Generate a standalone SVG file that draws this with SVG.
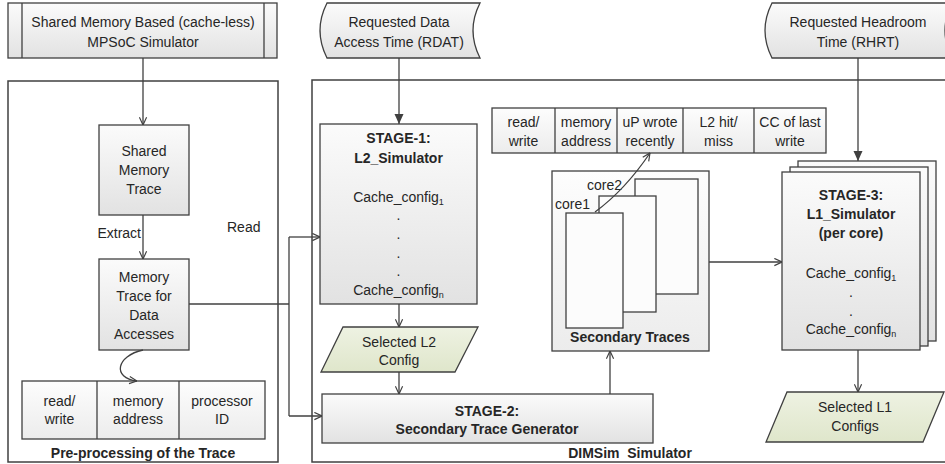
<svg xmlns="http://www.w3.org/2000/svg" width="945" height="464" viewBox="0 0 945 464">
<defs>
<linearGradient id="g" x1="0" y1="0" x2="0" y2="1"><stop offset="0" stop-color="#fbfbfb"/><stop offset="1" stop-color="#e2e2e2"/></linearGradient>
<linearGradient id="gl" x1="0" y1="0" x2="0" y2="1"><stop offset="0" stop-color="#fdfdfd"/><stop offset="1" stop-color="#ececec"/></linearGradient>
<linearGradient id="gg" x1="0" y1="0" x2="0" y2="1"><stop offset="0" stop-color="#eef2e2"/><stop offset="1" stop-color="#dfe6cb"/></linearGradient>
<marker id="open" viewBox="0 0 10 10" refX="9.5" refY="5" markerWidth="9" markerHeight="9" orient="auto" markerUnits="userSpaceOnUse"><path d="M1,1 L9.5,5 L1,9" fill="none" stroke="#404040" stroke-width="1.3"/></marker>
<marker id="fill" viewBox="0 0 10 10" refX="10" refY="5" markerWidth="10" markerHeight="10" orient="auto" markerUnits="userSpaceOnUse"><path d="M0,0.5 L10,5 L0,9.5 Z" fill="#404040"/></marker>
</defs>
<style>
.b{stroke:#404040;stroke-width:1.3;fill:url(#g)}
.l{stroke:#404040;stroke-width:1.3;fill:url(#gl)}
.gr{stroke:#404040;stroke-width:1.3;fill:url(#gg)}
.w{stroke:#404040;stroke-width:1.3;fill:#fcfcfc}
.fr{stroke:#404040;stroke-width:1.5;fill:none}
.c{stroke:#404040;stroke-width:1.3;fill:none}
.o{marker-end:url(#open)}
.f{marker-end:url(#fill)}
text{font-family:"Liberation Sans",Arial,sans-serif;font-size:14px;fill:#262626;text-anchor:middle}
.bd{font-weight:bold}
.st{text-anchor:start}
.en{text-anchor:end}
.sub{font-size:9px}
</style>

<g id="left-frame">
<rect class="fr" x="8" y="81" width="270" height="381"/>
<text class="bd" x="143" y="458">Pre-processing of the Trace</text>
</g>
<g id="right-frame">
<rect class="fr" x="312" y="80" width="650" height="382"/>
<text class="bd" x="630" y="458" xml:space="preserve">DIMSim  Simulator</text>
</g>

<g id="mpsoc">
<rect class="b" x="8" y="3" width="269" height="55"/>
<line class="c" x1="22" y1="3" x2="22" y2="58"/>
<line class="c" x1="264" y1="3" x2="264" y2="58"/>
<text x="143" y="27">Shared Memory Based (cache-less)</text>
<text x="143" y="47">MPSoC Simulator</text>
</g>

<g id="rdat">
<path class="b" d="M327,3 L480,3 Q466,30.5 480,58 L327,58 Q313,30.5 327,3 Z"/>
<text x="399" y="27">Requested Data</text>
<text x="399" y="47">Access Time (RDAT)</text>
</g>

<g id="rhrt">
<path class="b" d="M772,3 L952,3 Q938,30.5 952,58 L772,58 Q758,30.5 772,3 Z"/>
<text x="858" y="27">Requested Headroom</text>
<text x="858" y="47">Time (RHRT)</text>
</g>

<g id="smt">
<rect class="b" x="99" y="125" width="90" height="90"/>
<text x="144" y="156">Shared</text>
<text x="144" y="175">Memory</text>
<text x="144" y="194">Trace</text>
</g>

<g id="mtda">
<rect class="b" x="99" y="259" width="90" height="91"/>
<text x="144" y="282">Memory</text>
<text x="144" y="301">Trace for</text>
<text x="144" y="320">Data</text>
<text x="144" y="339">Accesses</text>
</g>

<g id="table-left">
<rect class="l" x="22" y="381" width="243" height="58"/>
<line class="c" x1="97" y1="381" x2="97" y2="439"/>
<line class="c" x1="179" y1="381" x2="179" y2="439"/>
<text x="59.5" y="406">read/</text>
<text x="59.5" y="424">write</text>
<text x="138" y="406">memory</text>
<text x="138" y="424">address</text>
<text x="222" y="406">processor</text>
<text x="222" y="424">ID</text>
</g>

<g id="stage1">
<rect class="b" x="320" y="124" width="157" height="180"/>
<text class="bd" x="398.5" y="143">STAGE-1:</text>
<text class="bd" x="398.5" y="163">L2_Simulator</text>
<text x="398.5" y="202">Cache_config<tspan class="sub" dy="3">1</tspan></text>
<text x="398.5" y="220">.</text>
<text x="398.5" y="239">.</text>
<text x="398.5" y="258">.</text>
<text x="398.5" y="276">.</text>
<text x="398.5" y="295">Cache_config<tspan class="sub" dy="3">n</tspan></text>
</g>

<g id="selected-l2">
<polygon class="gr" points="343,327 478,327 455,372 321,372"/>
<text x="399" y="347">Selected L2</text>
<text x="399" y="365">Config</text>
</g>

<g id="stage2">
<rect class="b" x="322" y="394" width="331" height="49"/>
<text class="bd" x="487" y="416">STAGE-2:</text>
<text class="bd" x="487" y="434">Secondary Trace Generator</text>
</g>

<g id="table-top">
<rect class="l" x="492" y="108" width="334" height="45"/>
<line class="c" x1="555" y1="108" x2="555" y2="153"/>
<line class="c" x1="617" y1="108" x2="617" y2="153"/>
<line class="c" x1="683" y1="108" x2="683" y2="153"/>
<line class="c" x1="754" y1="108" x2="754" y2="153"/>
<text x="523.5" y="127">read/</text>
<text x="523.5" y="146">write</text>
<text x="586" y="127">memory</text>
<text x="586" y="146">address</text>
<text x="650" y="127">uP wrote</text>
<text x="650" y="146">recently</text>
<text x="718.5" y="127">L2 hit/</text>
<text x="718.5" y="146">miss</text>
<text x="790" y="127">CC of last</text>
<text x="790" y="146">write</text>
</g>

<g id="secondary-traces">
<rect class="l" x="552" y="171" width="157" height="180"/>
<rect class="w" x="635" y="179" width="63" height="115"/>
<rect class="w" x="599" y="196" width="57" height="116"/>
<rect class="w" x="566" y="213" width="57" height="115"/>
<text class="st" x="587" y="190">core2</text>
<text class="st" x="555" y="209">core1</text>
<text class="bd" x="630" y="342">Secondary Traces</text>
</g>

<g id="stage3">
<rect class="b" x="798" y="161" width="138" height="180"/>
<rect class="b" x="790" y="167" width="138" height="179"/>
<rect class="b" x="782" y="172" width="138" height="178"/>
<text class="bd" x="851" y="200">STAGE-3:</text>
<text class="bd" x="851" y="219">L1_Simulator</text>
<text class="bd" x="851" y="238">(per core)</text>
<text x="851" y="278">Cache_config<tspan class="sub" dy="3">1</tspan></text>
<text x="851" y="297">.</text>
<text x="851" y="316">.</text>
<text x="851" y="334">Cache_config<tspan class="sub" dy="3">n</tspan></text>
</g>

<g id="selected-l1">
<polygon class="gr" points="787,392 944,392 923,442 766,442"/>
<text x="855" y="412">Selected L1</text>
<text x="855" y="431">Configs</text>
</g>

<g id="connectors">
<line class="c o" x1="143" y1="58" x2="143" y2="125"/>
<line class="c o" x1="143" y1="215" x2="143" y2="259"/>
<path class="c o" d="M143,350 C116,356 112,378 137,381"/>
<polyline class="c" points="189,304 289,304"/>
<line class="c" x1="289" y1="237" x2="289" y2="416"/>
<line class="c o" x1="289" y1="237" x2="320" y2="237"/>
<line class="c o" x1="289" y1="416" x2="322" y2="416"/>
<line class="c f" x1="399" y1="58" x2="399" y2="124"/>
<line class="c o" x1="399" y1="304" x2="399" y2="327"/>
<line class="c o" x1="399" y1="372" x2="399" y2="394"/>
<line class="c o" x1="610" y1="394" x2="610" y2="351"/>
<path class="c o" d="M595,212 Q625,190 650,153"/>
<line class="c o" x1="709" y1="262" x2="782" y2="262"/>
<line class="c f" x1="858" y1="58" x2="858" y2="161"/>
<line class="c o" x1="858" y1="350" x2="858" y2="392"/>
<text class="en" x="141" y="238">Extract</text>
<text class="st" x="227" y="232">Read</text>
</g>
</svg>
